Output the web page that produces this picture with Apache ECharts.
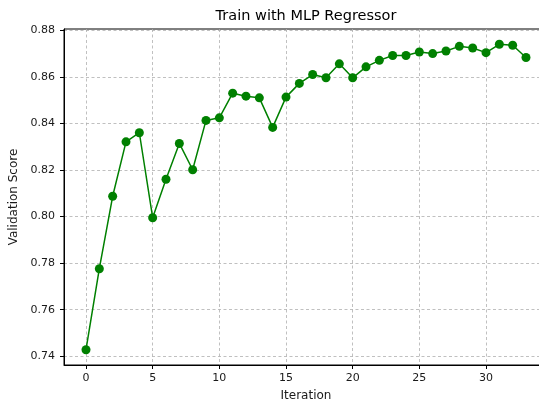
<!DOCTYPE html>
<html>
<head>
<meta charset="utf-8">
<script src="https://cdn.jsdelivr.net/npm/echarts@6/dist/echarts.min.js"></script>
<style>
html,body{margin:0;padding:0;background:#fff;}
#chart{width:539px;height:408px;}
</style>
</head>
<body>
<div id="chart"></div>
<script>
const iterations = [0,1,2,3,4,5,6,7,8,9,10,11,12,13,14,15,16,17,18,19,20,21,22,23,24,25,26,27,28,29,30,31,32,33];
const scores = [0.7428,0.7776,0.8087,0.8321,0.8360,0.7995,0.8160,0.8314,0.8201,0.8413,0.8424,0.8530,0.8517,0.8510,0.8383,0.8513,
  0.8572,0.8610,0.8596,0.8656,0.8596,0.8643,0.8671,0.8692,0.8692,0.8707,0.8700,0.8711,0.8731,0.8724,0.8704,0.8740,0.8736,0.8683];
const xTicks = [0,5,10,15,20,25,30];
const yTicks = [0.74,0.76,0.78,0.80,0.82,0.84,0.86,0.88];
const titleText = 'Train with MLP Regressor';
const xName = 'Iteration';
const yName = 'Validation Score';

const xMinD = Math.min(...iterations), xMaxD = Math.max(...iterations);
const yMinD = Math.min(...scores), yMaxD = Math.max(...scores);
const xPad = (xMaxD - xMinD) * 0.05, yPad = (yMaxD - yMinD) * 0.05;

const font = 'DejaVu Sans';
const gridLine = {show: true, lineStyle: {type: [3, 2.5], color: '#b0b0b0', width: 0.8}};

const chart = echarts.init(document.getElementById('chart'), null, {renderer: 'canvas'});
chart.setOption({
  animation: false,
  backgroundColor: '#fff',
  textStyle: {fontFamily: font},
  graphic: [{
    type: 'text', x: 306, y: 16,
    style: {text: titleText, fontFamily: font, fontSize: 14.5, fill: '#000', textAlign: 'center', textVerticalAlign: 'middle'}
  }],
  grid: {left: 64, top: 29, width: 484, height: 336, show: true, borderColor: '#000', borderWidth: 1,
         containLabel: false, outerBoundsMode: 'none'},
  xAxis: {
    type: 'value', min: xMinD - xPad, max: xMaxD + xPad,
    axisLine: {show: true, onZero: false, lineStyle: {color: '#000', width: 1}},
    axisTick: {show: true, customValues: xTicks, length: 4, lineStyle: {color: '#000'}},
    axisLabel: {customValues: xTicks, color: '#1a1a1a', fontSize: 11, fontFamily: font, margin: 8, formatter: v => String(Math.round(v))},
    splitLine: gridLine,
    name: xName, nameLocation: 'middle', nameGap: 25,
    nameTextStyle: {color: '#1a1a1a', fontSize: 12, fontFamily: font}
  },
  yAxis: {
    type: 'value', min: yMinD - yPad, max: yMaxD + yPad,
    axisLine: {show: true, onZero: false, lineStyle: {color: '#000', width: 1}},
    axisTick: {show: true, customValues: yTicks, length: 4, lineStyle: {color: '#000'}},
    axisLabel: {customValues: yTicks, color: '#1a1a1a', fontSize: 11, fontFamily: font, margin: 9, formatter: v => v.toFixed(2)},
    splitLine: gridLine,
    name: yName, nameLocation: 'middle', nameGap: 39, nameRotate: 90,
    nameTextStyle: {color: '#1a1a1a', fontSize: 12, fontFamily: font}
  },
  series: [{
    type: 'line',
    data: iterations.map((x, i) => [x, scores[i]]),
    symbol: 'circle', symbolSize: 9,
    lineStyle: {color: '#008000', width: 1.5},
    itemStyle: {color: '#008000'},
    z: 3
  }]
});
</script>
</body>
</html>
